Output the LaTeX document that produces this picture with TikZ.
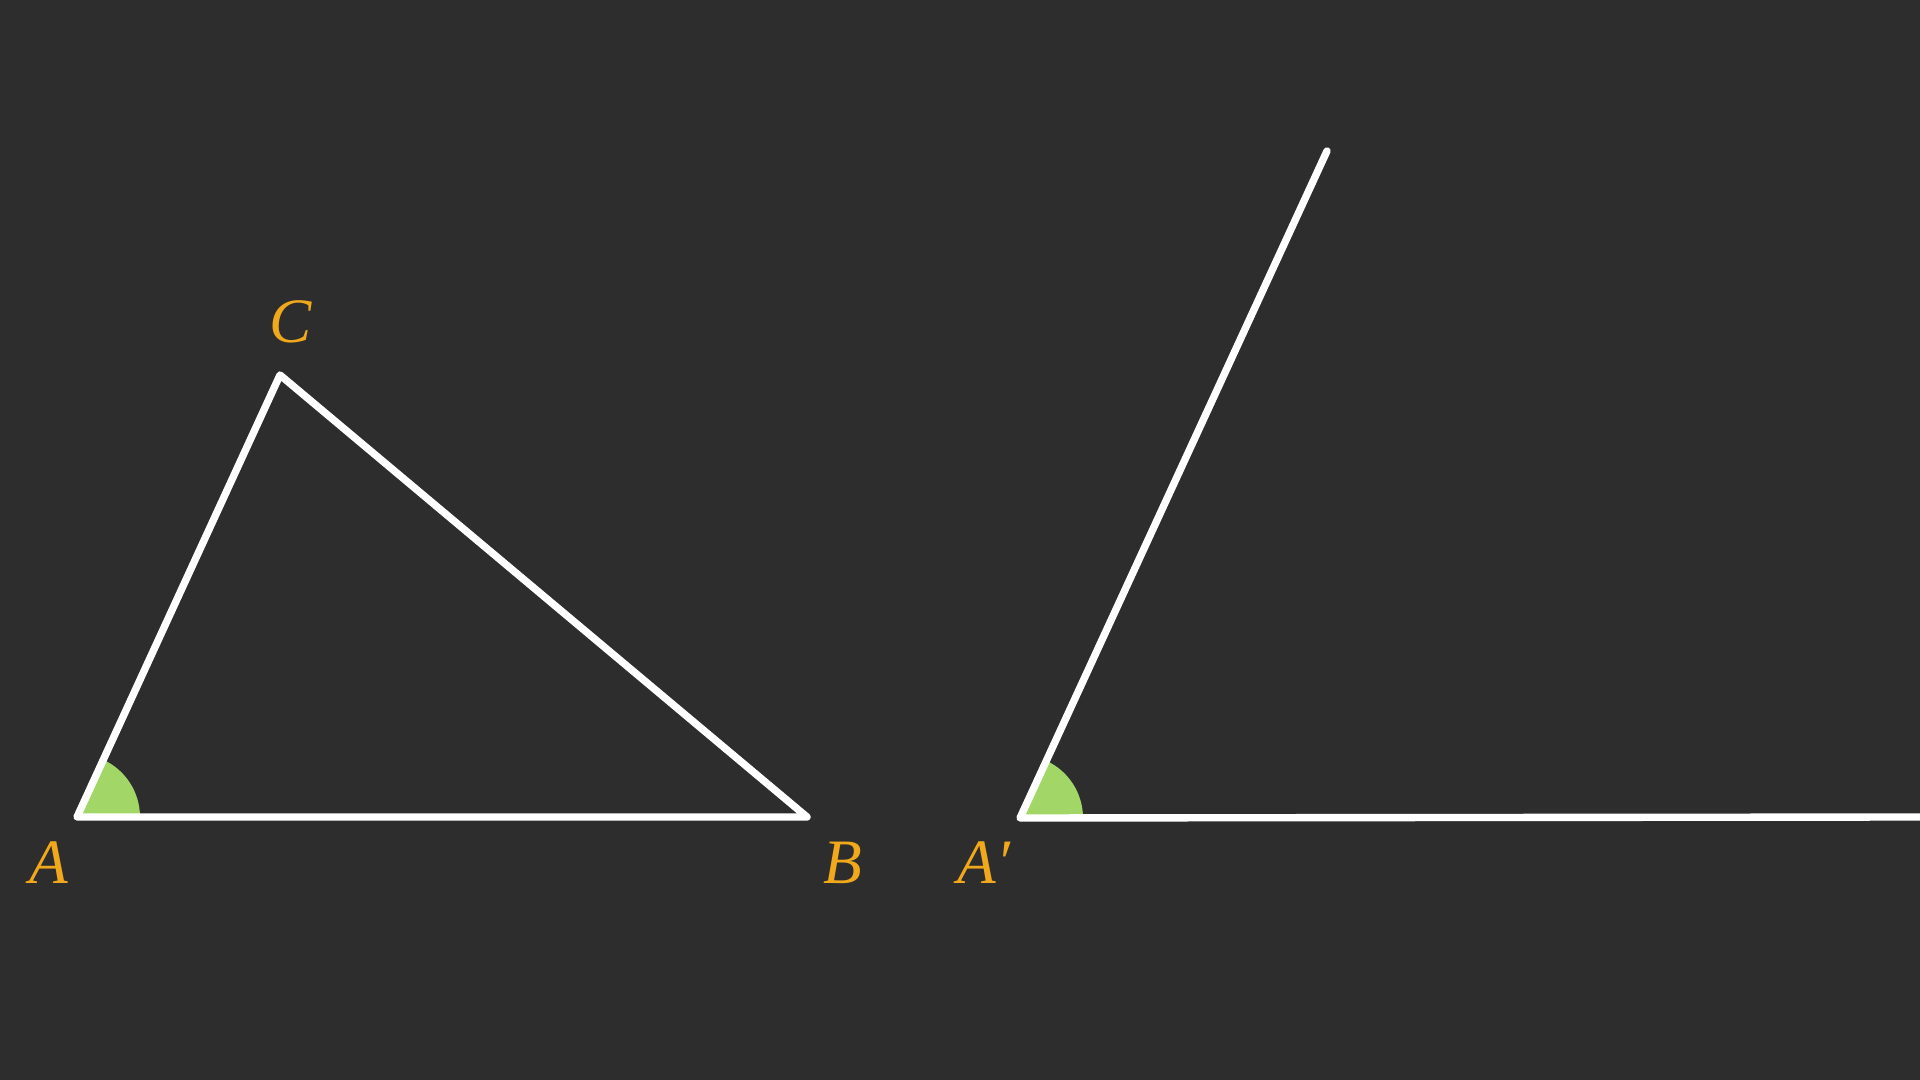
\documentclass[tikz,border=0pt]{standalone}
\usepackage{fontspec}
\setmainfont{Liberation Serif}
\definecolor{bgdark}{HTML}{2D2D2D}
\definecolor{labelorange}{HTML}{F0A81C}
\definecolor{anglegreen}{HTML}{A2D767}
\begin{document}
\begin{tikzpicture}[every node/.style={font=\fontsize{18}{21}\selectfont\itshape, text=labelorange},
    side/.style={draw=white, line width=2.1pt, line cap=round, line join=round}]
        % Background (1920 x 1080 px, 1cm = 100px)
        \fill[bgdark] (0,0) rectangle (19.2,10.8);
        \useasboundingbox (0,0) rectangle (19.2,10.8);

        % Points
        \coordinate (A) at (0.77,2.63);
        \coordinate (B) at (8.07,2.63);
        \coordinate (C) at (2.80,7.05);
        \coordinate (A1) at (10.20,2.62);
        \coordinate (R) at (13.27,9.29);
        \coordinate (E) at (19.30,2.63);

        % Angle marks
        \fill[anglegreen] (A) -- ++(0:0.63) arc (0:65.3:0.63) -- cycle;
        \fill[anglegreen] (A1) -- ++(0:0.63) arc (0:65.3:0.63) -- cycle;

        % Triangle ABC
        \draw[side] (A) -- (B) -- (C) -- cycle;

        % Copied angle at A'
        \draw[side] (R) -- (A1) -- (E);

        % Labels
        \node (lA) at (0.49,2.17) {A};
        \node (lB) at (8.43,2.17) {B};
        \node (lC) at (2.91,7.58) {C};
        \node (lA1) at (9.84,2.17) {A′};
    \end{tikzpicture}
\end{document}
